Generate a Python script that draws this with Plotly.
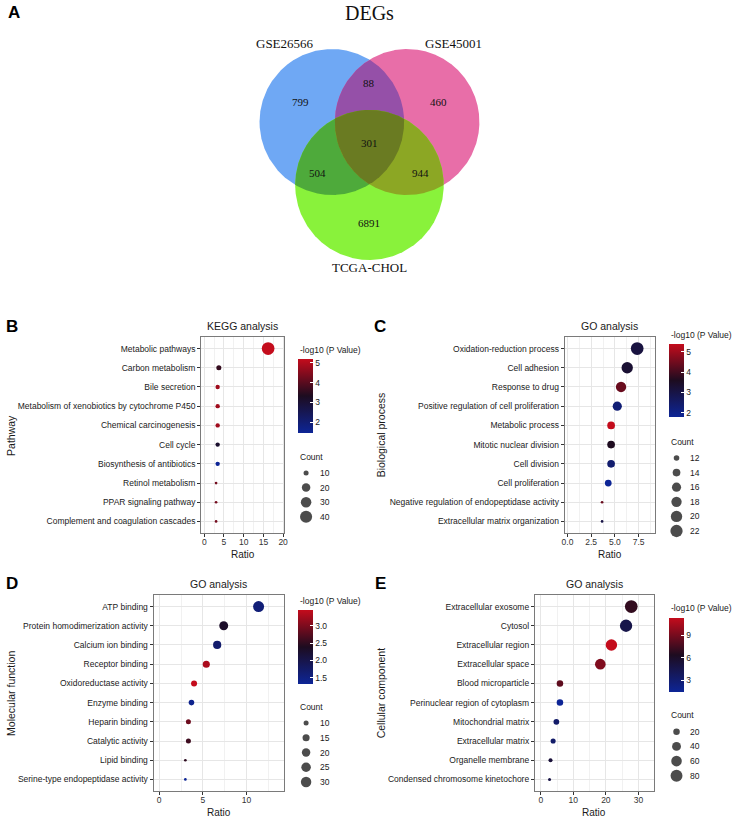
import numpy as np
import plotly.graph_objects as go

W, H = 735, 818

# ---------------- data ----------------
venn_title = "DEGs"
venn_sets = ["GSE26566", "GSE45001", "TCGA-CHOL"]
# only A, A&B only, only B, A&B&C, A&C only, B&C only, only C
venn_counts = [799, 88, 460, 301, 504, 944, 6891]

kegg_terms = ["Metabolic pathways", "Carbon metabolism", "Bile secretion",
              "Metabolism of xenobiotics by cytochrome P450", "Chemical carcinogenesis",
              "Cell cycle", "Biosynthesis of antibiotics", "Retinol metabolism",
              "PPAR signaling pathway", "Complement and coagulation cascades"]
kegg_ratio = [16.2, 3.7, 3.4, 3.4, 3.4, 3.4, 3.4, 3.0, 3.0, 3.0]
kegg_count = [44, 10, 9, 9, 9, 9, 9, 8, 8, 8]
kegg_logp = [5.2, 3.6, 4.8, 4.8, 4.8, 3.1, 1.45, 4.3, 4.3, 4.3]
kegg_xticks = [0, 5, 10, 15, 20]
kegg_cbticks = [2, 3, 4, 5]
kegg_sizebreaks = [10, 20, 30, 40]

bp_terms = ["Oxidation-reduction process", "Cell adhesion", "Response to drug",
            "Positive regulation of cell proliferation", "Metabolic process",
            "Mitotic nuclear division", "Cell division", "Cell proliferation",
            "Negative regulation of endopeptidase activity", "Extracellular matrix organization"]
bp_ratio = [7.35, 6.3, 5.65, 5.25, 4.6, 4.6, 4.6, 4.3, 3.65, 3.65]
bp_count = [23, 20, 18, 16, 14, 14, 14, 13, 11, 11]
bp_logp = [3.1, 3.3, 4.4, 2.3, 5.37, 3.6, 2.4, 1.8, 4.4, 3.0]
bp_xticks = [0, 2.5, 5, 7.5]
bp_cbticks = [2, 3, 4, 5]
bp_sizebreaks = [12, 14, 16, 18, 20, 22]

mf_terms = ["ATP binding", "Protein homodimerization activity", "Calcium ion binding",
            "Receptor binding", "Oxidoreductase activity", "Enzyme binding",
            "Heparin binding", "Catalytic activity", "Lipid binding",
            "Serine-type endopeptidase activity"]
mf_ratio = [11.4, 7.4, 6.65, 5.4, 4.0, 3.7, 3.35, 3.35, 3.0, 3.0]
mf_count = [33, 22, 19, 15, 12, 11, 10, 10, 8, 8]
mf_logp = [1.6, 2.3, 1.7, 3.3, 3.46, 1.4, 2.9, 2.6, 2.5, 1.32]
mf_xticks = [0, 5, 10]
mf_cbticks = [1.5, 2.0, 2.5, 3.0]
mf_sizebreaks = [10, 15, 20, 25, 30]

cc_terms = ["Extracellular exosome", "Cytosol", "Extracellular region", "Extracellular space",
            "Blood microparticle", "Perinuclear region of cytoplasm", "Mitochondrial matrix",
            "Extracellular matrix", "Organelle membrane", "Condensed chromosome kinetochore"]
cc_ratio = [27.8, 26.2, 21.7, 18.3, 5.9, 5.9, 4.8, 3.8, 3.0, 2.7]
cc_count = [93, 87, 72, 61, 20, 20, 16, 13, 10, 9]
cc_logp = [7.0, 4.6, 11.3, 9.3, 8.3, 1.44, 3.3, 3.3, 5.3, 4.8]
cc_xticks = [0, 10, 20, 30]
cc_cbticks = [3, 6, 9]
cc_sizebreaks = [20, 40, 60, 80]

# ---------------- style ----------------
SANS = "Liberation Sans, Arial, sans-serif"
SERIF = "Liberation Serif, Times New Roman, serif"
CSCALE = [[0, "#0d2596"], [0.5, "#1d0c20"], [1, "#c40c1c"]]
VENN_COL = {"A": "#6fa8f4", "B": "#e86ea8", "C": "#89f23b",
            "AB": "#9550a8", "AC": "#4eaa3b", "BC": "#8ca724", "ABC": "#6a7b22"}

fig = go.Figure()
ann = []


def A(x, y, text, size=8.5, color="#1a1a1a", xa="center", ya="middle", angle=0, family=SANS, bold=False):
    if bold:
        text = "<b>" + text + "</b>"
    ann.append(dict(x=x, y=y, xref="x", yref="y", text=text, showarrow=False,
                    xanchor=xa, yanchor=ya, textangle=angle,
                    font=dict(family=family, size=size, color=color)))


# canvas axis in pixel coordinates (x, y)
layout_axes = dict(
    xaxis=dict(domain=[0, 1], range=[0, W], visible=False, fixedrange=True),
    yaxis=dict(domain=[0, 1], range=[H, 0], visible=False, fixedrange=True),
)

# ---------------- Venn ----------------
centers = [(332, 122), (408, 122), (370, 185)]
radii = [73, 73, 75]


def circle_pts(c, r, n=2400):
    t = np.linspace(0, 2 * np.pi, n, endpoint=False)
    return np.c_[c[0] + r * np.cos(t), c[1] + r * np.sin(t)]


def inter_poly(idx):
    pts = []
    for i in idx:
        p = circle_pts(centers[i], radii[i])
        m = np.ones(len(p), bool)
        for j in idx:
            if j != i:
                m &= np.hypot(p[:, 0] - centers[j][0], p[:, 1] - centers[j][1]) <= radii[j]
        pts.append(p[m])
    P = np.vstack(pts)
    cen = P.mean(axis=0)
    ang = np.arctan2(P[:, 1] - cen[1], P[:, 0] - cen[0])
    return P[np.argsort(ang)]


regions = [((0,), "A"), ((1,), "B"), ((2,), "C"), ((0, 1), "AB"), ((0, 2), "AC"),
           ((1, 2), "BC"), ((0, 1, 2), "ABC")]
for idx, key in regions:
    P = inter_poly(idx)
    P = np.vstack([P, P[:1]])
    fig.add_trace(go.Scatter(x=P[:, 0], y=P[:, 1], xaxis="x", yaxis="y", mode="lines",
                             fill="toself", fillcolor=VENN_COL[key], line=dict(width=0),
                             hoverinfo="skip", showlegend=False))

A(370, 13, venn_title, size=20, color="#111", family=SERIF)
set_pos = [(285, 43), (455, 43), (370, 267)]
for (x, y), s in zip(set_pos, venn_sets):
    A(x, y, s, size=13, color="#111", family=SERIF)
num_pos = [(300, 102), (370, 83), (440, 102), (370, 143), (318, 173), (422, 173), (370, 223)]
for (x, y), v in zip(num_pos, venn_counts):
    A(x, y, str(v), size=11, color="#111", family=SERIF)

# ---------------- dot plots ----------------
panels = [
    dict(letter="B", title="KEGG analysis", ytitle="Pathway", terms=kegg_terms, ratio=kegg_ratio,
         count=kegg_count, logp=kegg_logp, xticks=kegg_xticks, cbticks=kegg_cbticks,
         sb=kegg_sizebreaks, box=(200, 337, 284, 533), xr=[-0.8, 20.3], dmin=2.7, dmax=12.7,
         letpos=(9, 326), ytpos=(8, 435), cbx=298, cbtop=359, cblen=74, cbty=350,
         cty=457, cy0=473, cdy=14.6, dotx=306, labx=318, fmt="{:g}", cbfmt="{:g}"),
    dict(letter="C", title="GO analysis", ytitle="Biological process", terms=bp_terms, ratio=bp_ratio,
         count=bp_count, logp=bp_logp, xticks=bp_xticks, cbticks=bp_cbticks,
         sb=bp_sizebreaks, box=(567, 337, 658, 533), xr=[-0.3, 9.2], dmin=2.7, dmax=12.7,
         letpos=(381, 326), ytpos=(382, 435), cbx=672, cbtop=344, cblen=73, cbty=335,
         cty=442, cy0=458, cdy=14.6, dotx=680, labx=692, fmt="{:.1f}", cbfmt="{:g}"),
    dict(letter="D", title="GO analysis", ytitle="Molecular function", terms=mf_terms, ratio=mf_ratio,
         count=mf_count, logp=mf_logp, xticks=mf_xticks, cbticks=mf_cbticks,
         sb=mf_sizebreaks, box=(152, 595, 284, 791), xr=[-0.65, 14.35], dmin=2.7, dmax=11.0,
         letpos=(9, 583), ytpos=(8, 693), cbx=298, cbtop=610, cblen=74, cbty=601,
         cty=707, cy0=723, cdy=14.75, dotx=306, labx=318, fmt="{:g}", cbfmt="{:.1f}"),
    dict(letter="E", title="GO analysis", ytitle="Cellular component", terms=cc_terms, ratio=cc_ratio,
         count=cc_count, logp=cc_logp, xticks=cc_xticks, cbticks=cc_cbticks,
         sb=cc_sizebreaks, box=(537, 595, 657, 791), xr=[-1.8, 34.7], dmin=3.0, dmax=12.7,
         letpos=(381, 583), ytpos=(382, 693), cbx=672, cbtop=618, cblen=74, cbty=608,
         cty=715, cy0=731.7, cdy=14.7, dotx=680, labx=692, fmt="{:g}", cbfmt="{:g}"),
]


def dsize(c, cmin, cmax, dmin, dmax):
    c = np.asarray(c, float)
    return dmin + (dmax - dmin) * np.sqrt(np.clip((c - cmin) / (cmax - cmin), 0, 1))


A(11, 12, "A", size=17, color="#000", bold=True)

for k, p in enumerate(panels):
    n = k + 2
    xa, ya = f"x{n}", f"y{n}"
    x0, y0, x1, y1 = p["box"]
    cmin, cmax = min(p["count"]), max(p["count"])
    lmin, lmax = min(p["logp"]), max(p["logp"])
    sizes = dsize(p["count"], cmin, cmax, p["dmin"], p["dmax"])
    xt = p["xticks"]
    minor = [(a + b) / 2 for a, b in zip(xt[:-1], xt[1:])]
    step = xt[1] - xt[0]
    if xt[-1] + step / 2 < p["xr"][1]:
        minor.append(xt[-1] + step / 2)
    fig.add_trace(go.Scatter(
        x=p["ratio"], y=p["terms"], xaxis=xa, yaxis=ya, mode="markers",
        marker=dict(size=sizes, color=p["logp"], colorscale=CSCALE, cmin=lmin, cmax=lmax,
                    opacity=1, line=dict(width=0), showscale=True,
                    colorbar=dict(x=p["cbx"] / W, xanchor="left", y=1 - p["cbtop"] / H, yanchor="top",
                                  len=p["cblen"], lenmode="pixels", thickness=15, thicknessmode="pixels",
                                  outlinewidth=0, xpad=0, ypad=0, tickvals=p["cbticks"],
                                  ticktext=[p["cbfmt"].format(v) for v in p["cbticks"]],
                                  ticks="inside", ticklen=3, tickcolor="white", tickwidth=1,
                                  tickfont=dict(family=SANS, size=8.5, color="#1a1a1a"))),
        hoverinfo="skip", showlegend=False))
    layout_axes[f"xaxis{n}"] = dict(
        domain=[x0 / W, x1 / W], anchor=ya, range=p["xr"], tickvals=xt,
        ticktext=[p["fmt"].format(v) for v in xt], ticks="outside", ticklen=3, tickcolor="#333",
        ticklabelstandoff=-2,
        tickfont=dict(family=SANS, size=8.5, color="#333"), showgrid=True, gridcolor="#e6e6e6",
        gridwidth=1, zeroline=False, showline=True, mirror=True, linecolor="#7a7a7a", linewidth=1,
        minor=dict(tickvals=minor, showgrid=True, gridcolor="#f1f1f1", gridwidth=0.6, ticks=""),
        fixedrange=True)
    layout_axes[f"yaxis{n}"] = dict(
        domain=[1 - y1 / H, 1 - y0 / H], anchor=xa, type="category", categoryorder="array",
        categoryarray=p["terms"], range=[len(p["terms"]) - 0.4, -0.6], ticks="outside", ticklen=3,
        tickcolor="#333", tickfont=dict(family=SANS, size=8.5, color="#1a1a1a"), showgrid=True,
        gridcolor="#e6e6e6", gridwidth=1, zeroline=False, showline=True, mirror=True,
        linecolor="#7a7a7a", linewidth=1, fixedrange=True)
    # texts
    cx = (x0 + x1) / 2
    A(p["letpos"][0], p["letpos"][1], p["letter"], size=17, color="#000", bold=True)
    A(cx, y0 - 11, p["title"], size=10.5, color="#1a1a1a")
    A(cx, y1 + 21, "Ratio", size=10, color="#1a1a1a")
    A(p["ytpos"][0], p["ytpos"][1], p["ytitle"], size=10.5, color="#1a1a1a", angle=-90)
    A(p["cbx"], p["cbty"], "-log10 (P Value)", size=8.5, xa="left")
    A(p["cbx"], p["cty"], "Count", size=8.5, xa="left")
    # size legend
    ly = [p["cy0"] + i * p["cdy"] for i in range(len(p["sb"]))]
    fig.add_trace(go.Scatter(
        x=[p["dotx"]] * len(p["sb"]), y=ly, xaxis="x", yaxis="y", mode="markers",
        marker=dict(size=dsize(p["sb"], cmin, cmax, p["dmin"], p["dmax"]), color="black",
                    line=dict(width=0)), hoverinfo="skip", showlegend=False))
    for yy, v in zip(ly, p["sb"]):
        A(p["labx"], yy, str(v), size=8.5, xa="left")

fig.update_layout(
    width=W, height=H, autosize=False, margin=dict(l=0, r=0, t=0, b=0),
    paper_bgcolor="white", plot_bgcolor="rgba(0,0,0,0)", showlegend=False,
    annotations=ann, font=dict(family=SANS), **layout_axes)

fig.write_html("out.html", config={"displayModeBar": False},
               post_script="document.body.style.margin='0';document.body.style.overflow='hidden';")
